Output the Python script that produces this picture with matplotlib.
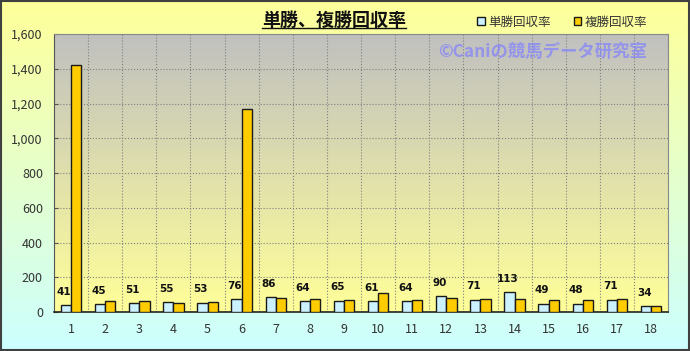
import numpy as np
import matplotlib
matplotlib.use("Agg")
import matplotlib.pyplot as plt
from matplotlib.colors import LinearSegmentedColormap
from matplotlib.lines import Line2D
from matplotlib.patches import Rectangle
from matplotlib.ticker import FuncFormatter, MultipleLocator

plt.rcParams['font.family'] = ['Noto Sans CJK JP', 'DejaVu Sans']

# ---- data ----
umaban = list(range(1, 19))
tansho = [41, 45, 51, 55, 53, 76, 86, 64, 65, 61, 64, 90, 71, 113, 49, 48, 71, 34]
fukusho = [1420, 63, 63, 52, 59, 1168, 81, 73, 71, 111, 67, 81, 77, 77, 67, 67, 73, 36]
title = "単勝、複勝回収率"
series_names = ["単勝回収率", "複勝回収率"]
watermark = "©Caniの競馬データ研究室"

fig = plt.figure(figsize=(6.9, 3.51), dpi=100)

# figure background gradient (yellow -> light cyan)
bg = fig.add_axes([0, 0, 1, 1], zorder=-10)
bg_cmap = LinearSegmentedColormap.from_list("bg", ["#ffff99", "#ccffff"])
bg.imshow(np.linspace(0, 1, 256).reshape(-1, 1), cmap=bg_cmap, aspect='auto',
          extent=[0, 1, 0, 1])
bg.set_axis_off()
bg.add_patch(Rectangle((0.001, 0.002), 0.997, 0.995, fill=False,
                       edgecolor='#404040', linewidth=1.5, transform=bg.transAxes))

ax = fig.add_axes([0.0783, 0.111, 0.890, 0.792])
ax.set_xlim(0.5, 18.5)
ax.set_ylim(0, 1600)

# plot area gradient (gray -> yellow)
pa_cmap = LinearSegmentedColormap.from_list("pa", ["#c0c0c0", "#ffff99"])
ax.imshow(np.linspace(0, 1, 256).reshape(-1, 1), cmap=pa_cmap, aspect='auto',
          extent=[0.5, 18.5, 0, 1600], zorder=0)

x = np.array(umaban)
w = 0.3
ax.bar(x - w / 2, tansho, width=w, color='#ccf2ff', edgecolor='#1a1a1a',
       linewidth=1.0, zorder=3, label=series_names[0])
ax.bar(x + w / 2, fukusho, width=w, color='#ffcc00', edgecolor='#1a1a1a',
       linewidth=1.0, zorder=3, label=series_names[1])

for xi, v in zip(x, tansho):
    ax.annotate(str(v), (xi - w / 2 - 0.05, v), xytext=(0, 6), textcoords='offset points',
                ha='center', va='bottom', fontsize=7.5, fontweight='bold',
                family='DejaVu Sans', color='#111111', zorder=5)

# grid
ax.yaxis.set_major_locator(MultipleLocator(200))
ax.yaxis.set_major_formatter(FuncFormatter(lambda v, p: f"{int(v):,}"))
ax.set_xticks(x)
ax.set_xticks(np.arange(0.5, 18.6, 1), minor=True)
ax.grid(axis='y', which='major', linestyle=':', color='#808080', linewidth=0.8, zorder=1)
ax.grid(axis='x', which='minor', linestyle=':', color='#808080', linewidth=0.8, zorder=1)
ax.set_axisbelow(True)
ax.tick_params(axis='x', which='both', length=0, labelsize=9, colors='#333333', pad=8)
ax.tick_params(axis='y', direction='in', length=3, labelsize=9, colors='#333333', pad=8)
ax.tick_params(axis='y', colors='#555555', labelcolor='#333333')
for s in ['top', 'right']:
    ax.spines[s].set_color('#888888')
    ax.spines[s].set_linewidth(0.8)
ax.spines['left'].set_color('#555555')
ax.spines['bottom'].set_color('#222222')
ax.spines['bottom'].set_linewidth(1.2)

# title with underline
fig.text(0.484, 0.943, title, ha='center', va='center', fontsize=13, fontweight='bold',
         color='#111111')
fig.add_artist(Line2D([0.380, 0.589], [0.921, 0.921], color='#111111', linewidth=1.0,
                      transform=fig.transFigure))

# legend
leg = fig.legend(loc='center', bbox_to_anchor=(0.815, 0.937), ncol=2, frameon=False,
                 fontsize=9, handlelength=0.6, handleheight=0.6, handletextpad=0.3,
                 columnspacing=1.8)
for t in leg.get_texts():
    t.set_color('#333333')

# watermark
fig.text(0.786, 0.851, watermark, ha='center', va='center', fontsize=12.5,
         fontweight='bold', color='#8080ff', alpha=0.7)

fig.savefig("out.png", dpi=100)
